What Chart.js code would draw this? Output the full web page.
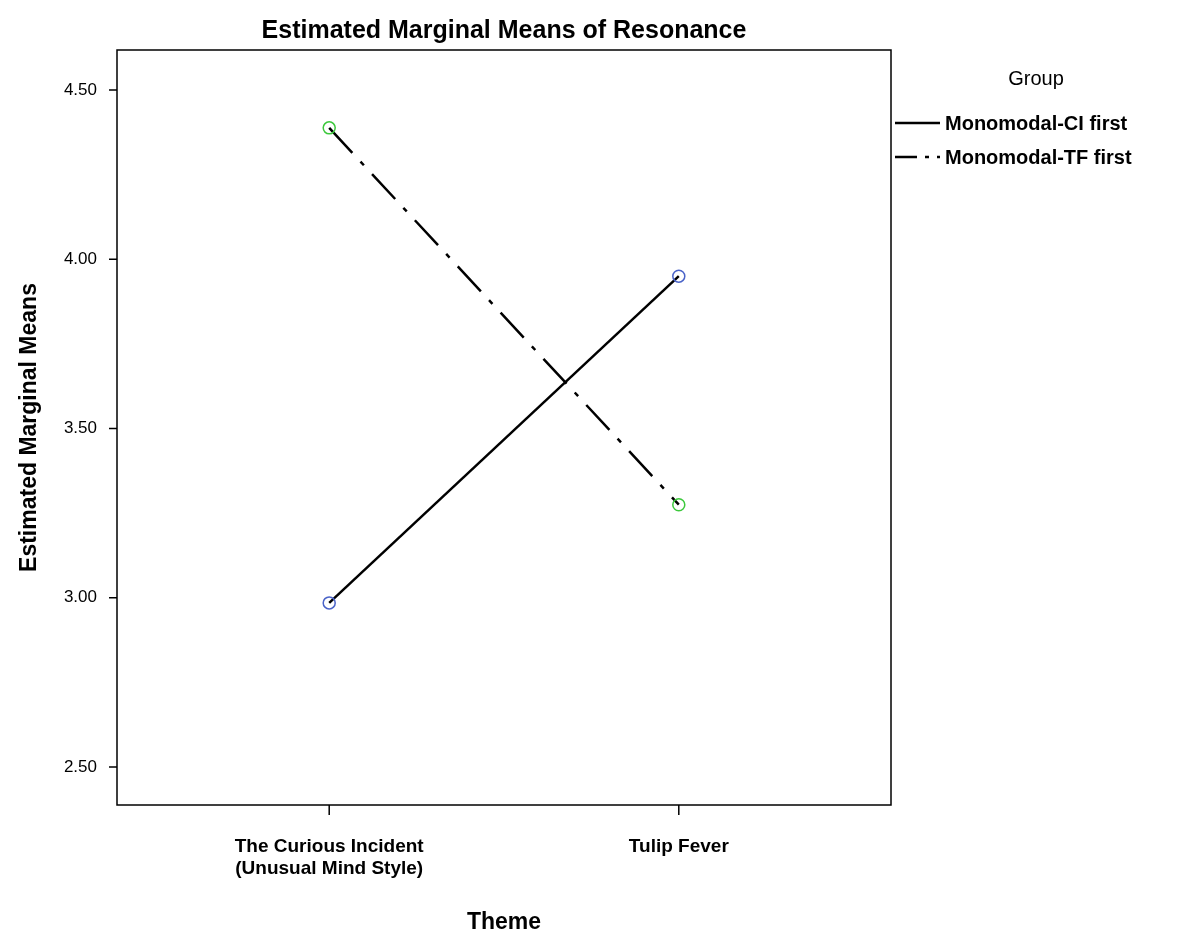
<!DOCTYPE html>
<html><head><meta charset="utf-8">
<script src="https://cdn.jsdelivr.net/npm/chart.js@4"></script>
<style>body{margin:0;background:#fff}#wrap{width:1200px;height:940px}</style>
</head><body><div id="wrap"><canvas id="c" width="1200" height="940"></canvas></div>
<script>
const themes = [["The Curious Incident", "(Unusual Mind Style)"], "Tulip Fever"];
const groups = ["Monomodal-CI first", "Monomodal-TF first"];
const ciFirst = [2.985, 3.95];
const tfFirst = [4.388, 3.275];
const yTicks = [2.5, 3.0, 3.5, 4.0, 4.5];
const FONT = "'Liberation Sans', Arial, sans-serif";

const frame = {
  id: "frame",
  afterDraw(chart) {
    const { ctx, chartArea: a, scales } = chart;
    ctx.save();
    ctx.strokeStyle = "#000"; ctx.lineWidth = 1.5;
    ctx.strokeRect(a.left, a.top, a.right - a.left, a.bottom - a.top);
    // tick marks
    ctx.beginPath();
    yTicks.forEach(v => { const y = scales.y.getPixelForValue(v); ctx.moveTo(a.left - 8, y); ctx.lineTo(a.left, y); });
    [0, 1].forEach(v => { const x = scales.x.getPixelForValue(v); ctx.moveTo(x, a.bottom); ctx.lineTo(x, a.bottom + 10); });
    ctx.stroke();
    // title
    ctx.fillStyle = "#000"; ctx.textAlign = "center"; ctx.textBaseline = "middle";
    ctx.font = "bold 25px " + FONT;
    ctx.fillText("Estimated Marginal Means of Resonance", (a.left + a.right) / 2, 31);
    // legend
    ctx.font = "20px " + FONT;
    ctx.fillText("Group", 1036, 79);
    ctx.textAlign = "left"; ctx.font = "bold 20px " + FONT;
    ctx.lineWidth = 2.5;
    [[123, []], [157, [22, 8, 4, 8]]].forEach(([y, d], i) => {
      ctx.setLineDash(d);
      ctx.beginPath(); ctx.moveTo(895, y); ctx.lineTo(940, y); ctx.stroke();
      ctx.fillText(groups[i], 945, y + 1);
    });
    ctx.restore();
  }
};

new Chart(document.getElementById("c"), {
  type: "line",
  data: {
    datasets: [
      { label: groups[0], data: ciFirst.map((v, i) => ({ x: i, y: v })), borderColor: "#000", borderWidth: 2.5,
        pointRadius: 6, pointBorderColor: "#4a63c8", pointBackgroundColor: "rgba(0,0,0,0)", pointBorderWidth: 1.5 },
      { label: groups[1], data: tfFirst.map((v, i) => ({ x: i, y: v })), borderColor: "#000", borderWidth: 2.5,
        borderDash: [34, 12, 5, 12],
        pointRadius: 6, pointBorderColor: "#3cc83c", pointBackgroundColor: "rgba(0,0,0,0)", pointBorderWidth: 1.5 }
    ]
  },
  options: {
    responsive: false, animation: false,
    layout: { padding: { top: 50, right: 309, left: 12, bottom: 0 } },
    plugins: { legend: { display: false }, tooltip: { enabled: false } },
    scales: {
      x: {
        type: "linear", min: -0.607, max: 1.607,
        afterBuildTicks: s => { s.ticks = [{ value: 0 }, { value: 1 }]; },
        ticks: { callback: v => themes[v], color: "#000", font: { family: FONT, size: 19, weight: "bold" }, maxRotation: 0, padding: 22 },
        grid: { display: false },
        border: { display: false },
        title: { display: true, text: "Theme", color: "#000", font: { family: FONT, size: 23, weight: "bold" }, padding: { top: 24 } },
        afterFit: s => { s.height = 135; }
      },
      y: {
        min: 2.388, max: 4.618,
        afterBuildTicks: s => { s.ticks = yTicks.map(v => ({ value: v })); },
        ticks: { callback: v => v.toFixed(2), color: "#000", font: { family: FONT, size: 17 }, padding: 12 },
        grid: { display: false },
        border: { display: false },
        title: { display: true, text: "Estimated Marginal Means", color: "#000", font: { family: FONT, size: 23, weight: "bold" }, padding: { bottom: 6 } },
        afterFit: s => { s.width = 105; }
      }
    }
  },
  plugins: [frame]
});
</script></body></html>
